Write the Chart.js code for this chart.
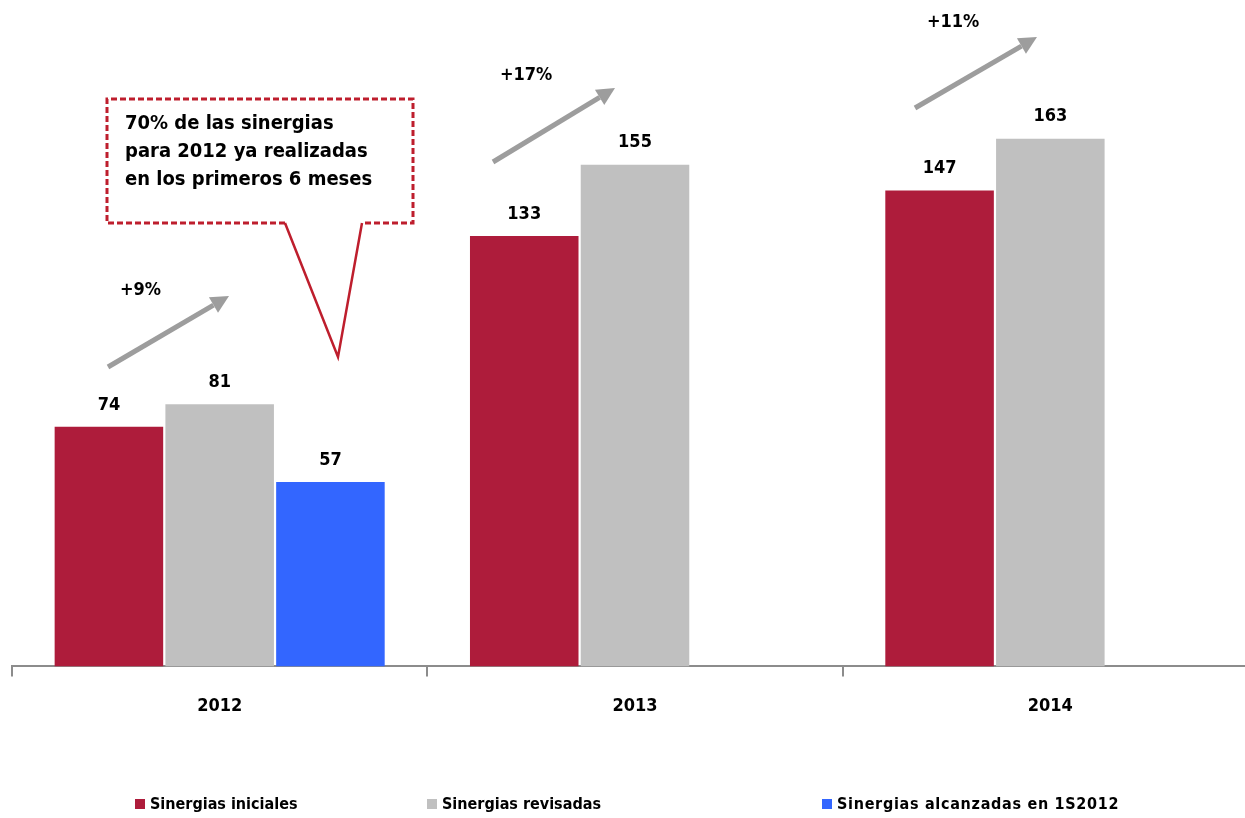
<!DOCTYPE html>
<html>
<head>
<meta charset="utf-8">
<script src="https://cdn.jsdelivr.net/npm/chart.js@4.4.1/dist/chart.umd.min.js"></script>
<style>
  html, body { margin:0; padding:0; background:#fff; overflow:hidden; }
  #wrap { position:relative; width:1260px; height:818px; }
  #chart { display:block; }
  .lg { position:absolute; top:794px; display:flex; align-items:center;
        font: bold 16px "DejaVu Sans Condensed", "DejaVu Sans", sans-serif; color:#000; white-space:nowrap; }
  .lg i { display:inline-block; width:10px; height:10px; margin-right:5px; }
</style>
</head>
<body>
<div id="wrap">
  <canvas id="chart" width="1260" height="818"></canvas>
  <div class="lg" style="left:135px"><i style="background:#AE1C3B"></i>Sinergias iniciales</div>
  <div class="lg" style="left:427px"><i style="background:#C0C0C0"></i>Sinergias revisadas</div>
  <div class="lg" style="left:822px;letter-spacing:0.7px"><i style="background:#3366FF"></i>Sinergias alcanzadas en 1S2012</div>
</div>
<script>
const years = ["2012", "2013", "2014"];
const iniciales = [74, 133, 147];
const revisadas = [81, 155, 163];
const alcanzadas = [57, null, null];
const growth = ["+9%", "+17%", "+11%"];
const calloutLines = ["70% de las sinergias", "para 2012 ya realizadas", "en los primeros 6 meses"];

const FONT = '"DejaVu Sans Condensed", "DejaVu Sans", sans-serif';
const RED = "#AE1C3B", GREY = "#C0C0C0", BLUE = "#3366FF";

// arrows + their labels (pixel positions of the annotation layer)
const ARROWS = [
  { from:[108,367], to:[229,296], label:[120,290] },
  { from:[493,162], to:[615,88],  label:[500,75] },
  { from:[915,108], to:[1037,37], label:[927,22] }
];

function drawArrow(ctx, a){
  const [x1,y1] = a.from, [x2,y2] = a.to;
  const ang = Math.atan2(y2-y1, x2-x1);
  const head = 18, hw = 9;
  const bx = x2 - head*Math.cos(ang), by = y2 - head*Math.sin(ang);
  ctx.save();
  ctx.strokeStyle = "#9d9d9d";
  ctx.fillStyle = "#9d9d9d";
  ctx.lineWidth = 5;
  ctx.beginPath(); ctx.moveTo(x1,y1); ctx.lineTo(bx,by); ctx.stroke();
  ctx.beginPath();
  ctx.moveTo(x2,y2);
  ctx.lineTo(bx + hw*Math.sin(ang), by - hw*Math.cos(ang));
  ctx.lineTo(bx - hw*Math.sin(ang), by + hw*Math.cos(ang));
  ctx.closePath(); ctx.fill();
  ctx.restore();
}

const annotations = {
  id: "annotations",
  afterDatasetsDraw(chart){
    const ctx = chart.ctx;

    // value labels above bars
    ctx.save();
    ctx.font = "bold 18px " + FONT;
    ctx.fillStyle = "#000";
    ctx.textAlign = "center";
    ctx.textBaseline = "middle";
    chart.data.datasets.forEach((ds, i)=>{
      chart.getDatasetMeta(i).data.forEach((bar, j)=>{
        const v = ds.data[j];
        if (v == null) return;
        ctx.fillText(String(v), bar.x, bar.y - 22);
      });
    });
    ctx.restore();

    // growth arrows
    ARROWS.forEach((a, i)=>{
      drawArrow(ctx, a);
      ctx.save();
      ctx.font = "bold 18px " + FONT;
      ctx.fillStyle = "#000";
      ctx.textBaseline = "middle";
      ctx.fillText(growth[i], a.label[0], a.label[1]);
      ctx.restore();
    });

    // callout box
    const L = 107, T = 99, R = 413, B = 223, p1 = 285, p2 = 362, tip = [338,357];
    ctx.save();
    ctx.fillStyle = "#fff";
    ctx.beginPath();
    ctx.moveTo(L,T); ctx.lineTo(R,T); ctx.lineTo(R,B); ctx.lineTo(p2,B);
    ctx.lineTo(tip[0],tip[1]); ctx.lineTo(p1,B); ctx.lineTo(L,B); ctx.closePath();
    ctx.fill();
    ctx.strokeStyle = "#BE1E2D";
    ctx.lineWidth = 3;
    ctx.setLineDash([6,3]);
    ctx.beginPath();
    ctx.moveTo(p1,B); ctx.lineTo(L,B); ctx.lineTo(L,T); ctx.lineTo(R,T); ctx.lineTo(R,B); ctx.lineTo(p2,B);
    ctx.stroke();
    ctx.setLineDash([]);
    ctx.lineWidth = 2.5;
    ctx.beginPath();
    ctx.moveTo(p2,B); ctx.lineTo(tip[0],tip[1]); ctx.lineTo(p1,B);
    ctx.stroke();
    ctx.font = "bold 20px " + FONT;
    ctx.fillStyle = "#000";
    ctx.textBaseline = "middle";
    calloutLines.forEach((t, i)=> ctx.fillText(t, 125, 124 + i*28));
    ctx.restore();
  }
};

new Chart(document.getElementById("chart"), {
  type: "bar",
  data: {
    labels: years,
    datasets: [
      { label: "Sinergias iniciales", data: iniciales, backgroundColor: RED },
      { label: "Sinergias revisadas", data: revisadas, backgroundColor: GREY },
      { label: "Sinergias alcanzadas en 1S2012", data: alcanzadas, backgroundColor: BLUE }
    ]
  },
  options: {
    responsive: false,
    animation: false,
    datasets: { bar: { categoryPercentage: 0.8, barPercentage: 0.98 } },
    layout: { padding: { left: 12, right: 2, top: 19, bottom: 82 } },
    plugins: { legend: { display: false }, tooltip: { enabled: false } },
    scales: {
      y: { display: false, min: 0, max: 200 },
      x: {
        grid: { drawOnChartArea: false, tickLength: 10, color: "#8c8c8c", lineWidth: 2, offset: true },
        border: { color: "#8c8c8c", width: 2 },
        ticks: { color: "#000", padding: 19, font: { family: FONT, size: 18, weight: "bold" } }
      }
    }
  },
  plugins: [annotations]
});
</script>
</body>
</html>
